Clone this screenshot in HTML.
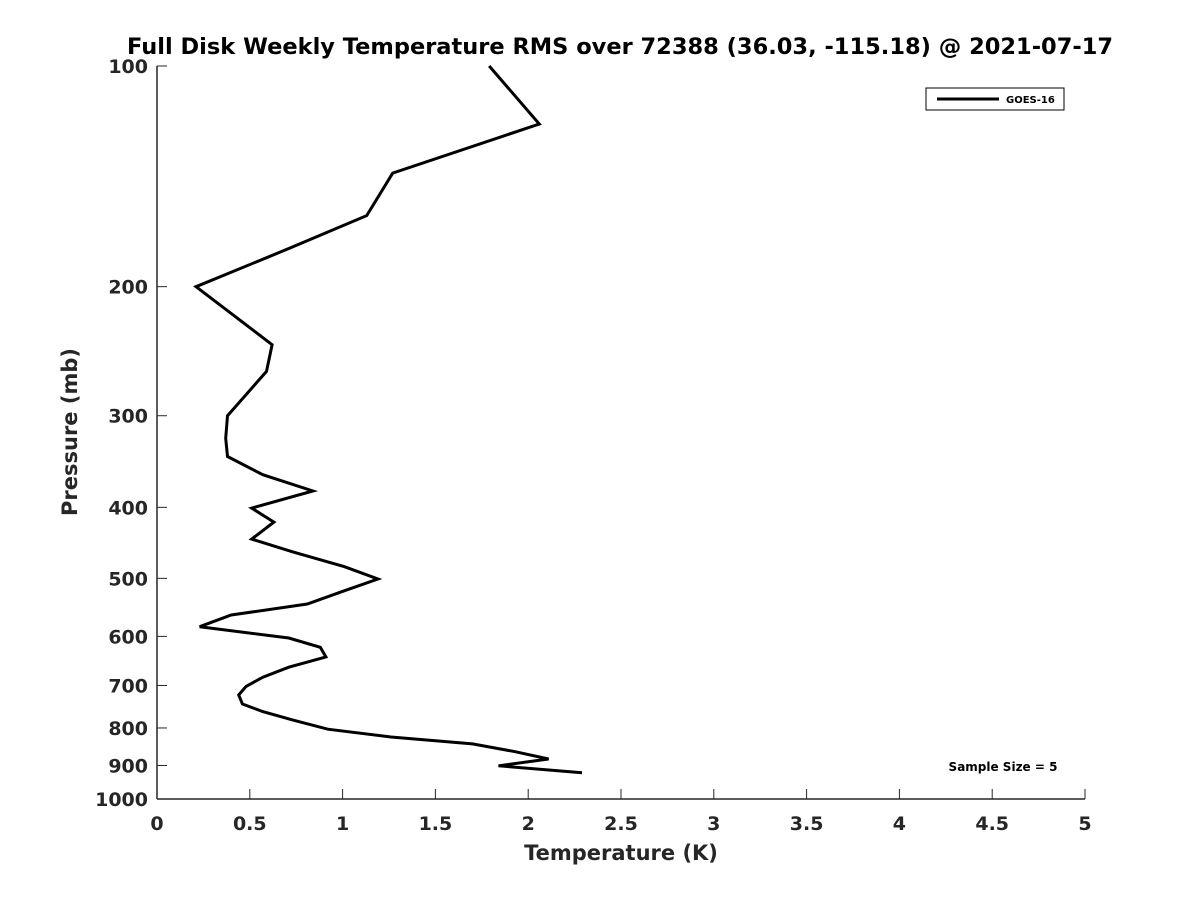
<!DOCTYPE html>
<html><head><meta charset="utf-8">
<style>
body{margin:0;background:#fff;}
svg{display:block;font-family:"DejaVu Sans","Liberation Sans",sans-serif;font-weight:bold;}
</style></head>
<body>
<svg id="chart" width="1200" height="900" viewBox="0 0 1200 900">
<rect width="1200" height="900" fill="#fff"/>
<text x="620" y="54" text-anchor="middle" font-size="22.5" fill="#000">Full Disk Weekly Temperature RMS over 72388 (36.03, -115.18) @ 2021-07-17</text>
<g id="axes"></g>
<g id="series"></g>
<g>
<rect x="926" y="88" width="138" height="22" fill="#fff" stroke="#000" stroke-width="1"/>
<line x1="937" y1="99" x2="999" y2="99" stroke="#000" stroke-width="3"/>
<text x="1006" y="103" font-size="10" fill="#000">GOES-16</text>
</g>
<text x="1003" y="771" text-anchor="middle" font-size="12" fill="#000">Sample Size = 5</text>
<text x="621" y="860" text-anchor="middle" font-size="21" fill="#262626">Temperature (K)</text>
<text transform="translate(77,432) rotate(-90)" text-anchor="middle" font-size="21" fill="#262626">Pressure (mb)</text>
</svg>
<script>
const xTicks = [0,0.5,1,1.5,2,2.5,3,3.5,4,4.5,5];
const xTickLabels = ["0","0.5","1","1.5","2","2.5","3","3.5","4","4.5","5"];
const yTicks = [100,200,300,400,500,600,700,800,900,1000];
const yTickLabels = ["100","200","300","400","500","600","700","800","900","1000"];
const temps = [1.79,2.06,1.27,1.13,0.72,0.21,0.62,0.59,0.38,0.37,0.38,0.57,0.84,0.51,0.63,0.51,0.73,1.01,1.19,0.99,0.81,0.40,0.23,0.71,0.88,0.91,0.71,0.57,0.48,0.44,0.46,0.57,0.73,0.92,1.26,1.70,1.93,2.11,1.84,2.29];
const pressures = [100,120,140,160,177,200,240,261,300,322,341,361,380,401,419,442,460,482,501,522,542,561,582,603,621,640,661,682,702,721,742,760,780,803,823,841,862,882,901,921];

const X0=157,X1=1085,Y0=66,Y1=799;
const xs=v=>X0+(v-0)/(5-0)*(X1-X0);
const ys=p=>Y0+(Math.log10(p)-2)/(1)*(Y1-Y0);
const NS="http://www.w3.org/2000/svg";
const axes=document.getElementById('axes');
function mk(tag,attrs,parent){const e=document.createElementNS(NS,tag);for(const k in attrs)e.setAttribute(k,attrs[k]);parent.appendChild(e);return e;}
const xAxis=mk('line',{x1:X0,y1:Y1,x2:X1,y2:Y1,stroke:'#262626','stroke-width':1.5},axes);


const yAxis=mk('line',{x1:X0,y1:Y0,x2:X0,y2:Y1,stroke:'#262626','stroke-width':1.5},axes);


xTicks.forEach((v,i)=>{
  const x=xs(v);
  mk('line',{x1:x,y1:Y1,x2:x,y2:Y1-10,stroke:'#262626','stroke-width':1},axes);
  const t=mk('text',{x:x,y:Y1+31,'text-anchor':'middle','font-size':19,fill:'#262626'},axes);
  t.textContent=xTickLabels[i];
  
  
});
yTicks.forEach((p,i)=>{
  const y=ys(p);
  mk('line',{x1:X0,y1:y,x2:X0+10,y2:y,stroke:'#262626','stroke-width':1},axes);
  const t=mk('text',{x:X0-9,y:y+7,'text-anchor':'end','font-size':19,fill:'#262626'},axes);
  t.textContent=yTickLabels[i];
  
  
});
const pts=temps.map((t,i)=>xs(t).toFixed(1)+','+ys(pressures[i]).toFixed(1)).join(' ');
const line=mk('polyline',{points:pts,fill:'none',stroke:'#000','stroke-width':3,'stroke-linejoin':'miter'},document.getElementById('series'));


</script>
</body></html>
